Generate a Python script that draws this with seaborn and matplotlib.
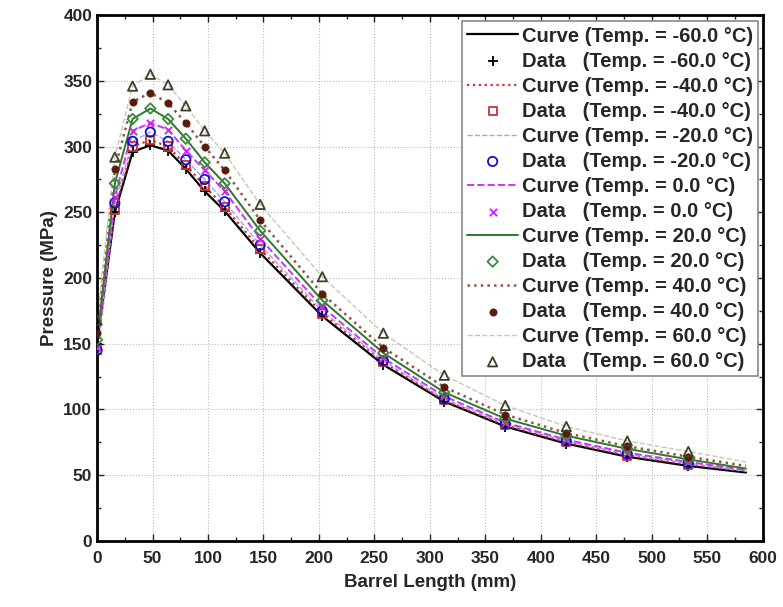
import numpy as np
import pandas as pd
import seaborn as sns
import matplotlib.pyplot as plt
from matplotlib.ticker import MultipleLocator

# barrel positions of the measured points (mm) and end of the barrel
x_data = [0, 16, 32, 48, 64, 80, 97, 115, 147, 203, 258, 313, 368, 423, 478, 533]
x_end = 585

temps = [-60.0, -40.0, -20.0, 0.0, 20.0, 40.0, 60.0]

p_m60 = [150, 250, 296, 301, 297, 283, 266, 251, 219, 171, 134, 106, 87, 74, 64, 57]
p_m40 = [145, 252, 300, 305, 300, 286, 270, 254, 222, 173, 136, 107, 88, 75, 65, 58]
p_m20 = [145, 257, 304, 311, 304, 290, 275, 258, 225, 175, 137, 108, 89, 76, 66, 59]
p_0 = [147, 262, 312, 318, 313, 297, 282, 266, 230, 178, 139, 110, 90, 77, 67, 60]
p_20 = [153, 272, 321, 329, 321, 306, 288, 272, 236, 183, 143, 113, 93, 80, 70, 62]
p_40 = [158, 283, 334, 341, 333, 318, 300, 282, 244, 188, 147, 117, 96, 82, 72, 64]
p_60 = [168, 292, 346, 355, 347, 331, 312, 295, 256, 201, 158, 126, 103, 87, 76, 68]
p_end = [52, 53, 53, 54, 55, 57, 60]

series = [p_m60, p_m40, p_m20, p_0, p_20, p_40, p_60]

# curve style, data marker style
styles = [
    dict(lc='black', ls='-', lw=1.6, mk='+', mc='black', fill=True, ms=45),
    dict(lc='#d03030', ls=':', lw=1.6, mk='s', mc='#d03030', fill=False, ms=35),
    dict(lc='#a0a0ff', ls='--', lw=1.0, mk='o', mc='#1010d0', fill=False, ms=45),
    dict(lc='#cc33ff', ls='--', lw=1.4, mk='x', mc='#cc22ee', fill=True, ms=28),
    dict(lc='#2a7a2a', ls='-', lw=1.4, mk='D', mc='#3a8a3a', fill=False, ms=28),
    dict(lc='#8b5a40', ls=':', lw=1.8, mk='o', mc='#5a1a0a', fill=True, ms=28),
    dict(lc='#c8c8b0', ls='--', lw=1.0, mk='^', mc='#404028', fill=False, ms=45),
]

sns.set_style('ticks')
plt.rcParams['font.family'] = ['Liberation Sans', 'DejaVu Sans']

fig = plt.figure(figsize=(7.83, 6.07), dpi=100)
ax = fig.add_axes([0.124, 0.109, 0.850, 0.866])

for t, vals, end, st in zip(temps, series, p_end, styles):
    curve = pd.DataFrame({'x': x_data + [x_end], 'y': vals + [end]})
    sns.lineplot(x='x', y='y', data=curve, ax=ax, color=st['lc'], linestyle=st['ls'],
                 linewidth=st['lw'], label=f'Curve (Temp. = {t:.1f} \u00b0C)')
    data = pd.DataFrame({'x': x_data, 'y': vals})
    if st['mk'] in ('+', 'x'):
        sns.scatterplot(x='x', y='y', data=data, ax=ax, marker=st['mk'], color=st['mc'],
                        s=st['ms'], linewidth=1.3, label=f'Data   (Temp. = {t:.1f} \u00b0C)', zorder=3)
    elif st['fill']:
        sns.scatterplot(x='x', y='y', data=data, ax=ax, marker=st['mk'], color=st['mc'],
                        s=st['ms'], edgecolor=st['mc'], label=f'Data   (Temp. = {t:.1f} \u00b0C)', zorder=3)
    else:
        sns.scatterplot(x='x', y='y', data=data, ax=ax, marker=st['mk'], facecolor='none',
                        edgecolor=st['mc'], s=st['ms'], linewidth=1.3,
                        label=f'Data   (Temp. = {t:.1f} \u00b0C)', zorder=3)

ax.set_xlim(0, 600)
ax.set_ylim(0, 400)
ax.xaxis.set_major_locator(MultipleLocator(50))
ax.xaxis.set_minor_locator(MultipleLocator(25))
ax.yaxis.set_major_locator(MultipleLocator(50))
ax.yaxis.set_minor_locator(MultipleLocator(25))
ax.grid(True, which='major', linestyle=':', color='#bbbbbb', linewidth=0.8)
ax.tick_params(which='both', direction='in', top=True, right=True, labelsize=12.5)
ax.tick_params(which='major', length=5, width=1)
ax.tick_params(which='minor', length=3, width=1)
ax.tick_params(axis='x', pad=7)
for lab in ax.get_xticklabels() + ax.get_yticklabels():
    lab.set_fontweight('bold')
for sp in ax.spines.values():
    sp.set_linewidth(2)
    sp.set_color('black')

ax.set_xlabel('Barrel Length (mm)', fontsize=13.5, fontweight='bold', labelpad=6)
ax.set_ylabel('Pressure (MPa)', fontsize=13.5, fontweight='bold')

handles, labels = ax.get_legend_handles_labels()
leg = ax.legend(handles, labels, loc='upper right', bbox_to_anchor=(0.993, 0.988),
                fancybox=False, frameon=True, edgecolor='#888888', framealpha=1,
                borderpad=0.25, labelspacing=0.3, handlelength=2.5, handletextpad=0.2,
                borderaxespad=0.0, prop={'weight': 'bold', 'size': 14.5})
leg.get_frame().set_linewidth(1.2)

fig.savefig('out.png', dpi=100)
